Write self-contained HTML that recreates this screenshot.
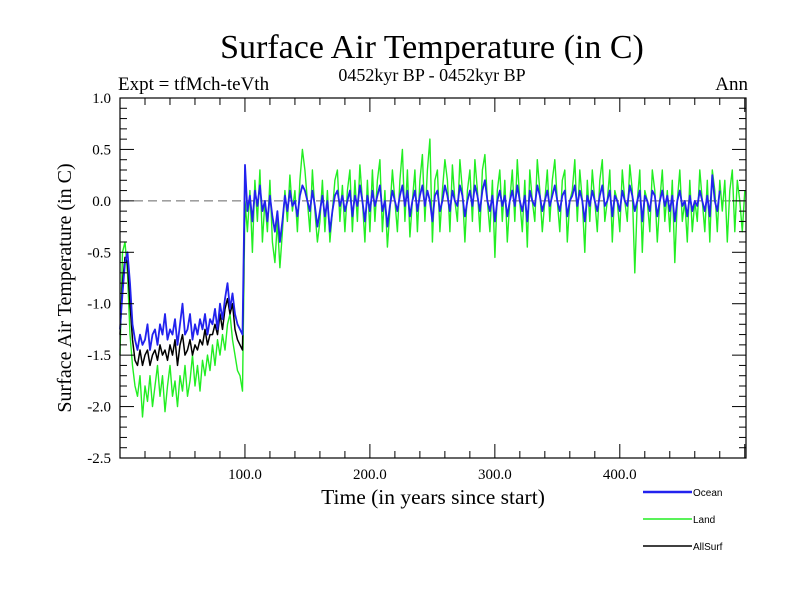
<!DOCTYPE html>
<html><head><meta charset="utf-8"><style>
body{margin:0;background:#fff}
svg{display:block;font-family:"Liberation Serif",serif}
</style></head><body>
<svg id="c" width="800" height="600" viewBox="0 0 800 600">
<text x="432" y="58" font-size="34" text-anchor="middle">Surface Air Temperature (in C)</text>
<text x="432" y="81" font-size="18" text-anchor="middle">0452kyr BP - 0452kyr BP</text>
<text x="118" y="90" font-size="19">Expt = tfMch-teVth</text>
<text x="748" y="90" font-size="19" text-anchor="end">Ann</text>
<text transform="translate(71,288) rotate(-90)" font-size="20" text-anchor="middle">Surface Air Temperature (in C)</text>
<text x="433" y="504" font-size="21.5" text-anchor="middle">Time (in years since start)</text>
<g id="plot"></g>
<g id="legend" font-family="Liberation Sans, sans-serif" font-size="10"></g>
</svg>
<script>
const yTicks=[1.0,0.5,0.0,-0.5,-1.0,-1.5,-2.0,-2.5];
const yTickLabels=["1.0","0.5","0.0","-0.5","-1.0","-1.5","-2.0","-2.5"];
const xTicks=[100,200,300,400];
const xTickLabels=["100.0","200.0","300.0","400.0"];
const years=[];for(let t=0;t<=500;t+=2)years.push(t);
const ocean=[-1.25,-0.9,-0.6,-0.5,-0.8,-1.2,-1.35,-1.45,-1.3,-1.4,-1.35,-1.2,-1.45,-1.3,-1.25,-1.4,-1.2,-1.3,-1.1,-1.35,-1.25,-1.3,-1.15,-1.4,-1.2,-1.0,-1.3,-1.25,-1.1,-1.35,-1.2,-1.3,-1.15,-1.25,-1.1,-1.3,-1.15,-1.2,-1.05,-1.25,-1.0,-1.15,-0.95,-0.8,-1.05,-0.9,-1.1,-1.2,-1.25,-1.3,0.35,
-0.1,0.05,-0.2,0.1,-0.05,0.15,-0.1,0.0,-0.2,0.05,
-0.15,-0.3,-0.1,-0.4,-0.2,0.05,-0.1,0.1,-0.05,0.0,
-0.15,0.05,0.15,0.1,0.0,-0.1,0.1,-0.05,-0.25,-0.1,
0.05,-0.15,0.0,-0.3,-0.1,0.05,0.1,-0.05,0.05,-0.1,
0.0,0.1,-0.15,0.05,-0.05,0.15,0.0,-0.2,0.05,-0.1,
0.1,-0.05,0.05,0.15,-0.1,0.0,-0.25,-0.05,0.1,0.0,
-0.1,0.05,0.15,-0.05,0.1,-0.15,0.0,0.1,-0.1,0.05,
0.15,-0.05,0.1,0.0,-0.2,0.05,0.1,-0.1,0.0,0.15,
0.05,-0.1,0.1,0.0,-0.05,0.15,0.05,-0.15,0.0,0.1,
-0.05,0.15,0.05,-0.1,0.1,0.2,0.0,-0.1,0.05,-0.2,
0.0,0.1,-0.05,0.05,-0.15,0.0,0.1,-0.05,0.15,0.0,
-0.1,0.05,-0.2,0.1,0.0,-0.05,0.15,0.05,-0.1,0.0,
0.1,-0.05,0.05,0.15,0.0,-0.1,0.05,0.1,-0.15,0.0,
0.05,0.15,-0.05,0.1,0.0,-0.2,0.05,-0.05,0.1,0.0,
-0.1,0.05,0.15,-0.05,0.0,0.1,-0.15,0.05,0.0,-0.1,
0.1,0.0,-0.05,0.15,0.05,-0.1,0.0,0.1,-0.2,0.05,
0.0,-0.1,0.1,0.05,-0.15,0.0,0.1,-0.05,0.05,-0.1,
0.05,-0.2,0.0,0.1,-0.05,0.0,-0.15,0.05,-0.1,0.0,
-0.05,0.1,0.0,-0.1,0.05,-0.15,0.25,0.0,-0.1,0.1];
const land=[-1.5,-0.5,-0.4,-0.7,-1.3,-1.6,-1.8,-1.9,-1.7,-2.1,-1.8,-1.95,-1.7,-2.0,-1.8,-1.6,-1.9,-1.7,-2.05,-1.8,-1.6,-1.9,-1.75,-2.0,-1.7,-1.85,-1.6,-1.9,-1.75,-1.5,-1.8,-1.6,-1.85,-1.55,-1.7,-1.5,-1.65,-1.4,-1.6,-1.35,-1.5,-1.3,-1.45,-1.2,-1.1,-1.35,-1.5,-1.65,-1.7,-1.85,0.0,
-0.3,0.1,-0.5,0.2,-0.2,0.3,-0.4,0.0,-0.3,0.2,
-0.4,-0.6,-0.2,-0.65,-0.3,0.1,-0.2,0.25,-0.1,0.1,
-0.3,0.2,0.5,0.3,0.0,-0.3,0.3,-0.1,-0.4,-0.2,
0.2,-0.3,0.1,-0.4,-0.1,0.2,0.3,-0.2,0.15,-0.3,
0.1,0.3,-0.3,0.2,-0.2,0.35,0.0,-0.4,0.2,-0.3,
0.3,-0.2,0.2,0.4,-0.3,0.1,-0.45,-0.1,0.3,0.0,
-0.3,0.2,0.5,-0.2,0.3,-0.35,0.0,0.3,-0.3,0.2,
0.45,-0.2,0.3,0.6,-0.4,0.2,0.3,-0.3,0.1,0.4,
0.2,-0.3,0.35,0.0,-0.2,0.4,0.1,-0.4,0.1,0.3,
-0.2,0.4,0.1,-0.3,0.3,0.45,0.0,-0.3,0.2,-0.55,
0.1,0.3,-0.2,0.2,-0.4,0.0,0.3,-0.2,0.4,0.0,
-0.3,0.2,-0.45,0.3,0.0,-0.2,0.4,0.1,-0.3,0.0,
0.3,-0.2,0.2,0.4,0.0,-0.3,0.2,0.3,-0.4,0.0,
0.1,0.4,-0.2,0.3,0.0,-0.5,0.2,-0.2,0.3,0.0,
-0.3,0.2,0.4,-0.2,0.0,0.3,-0.4,0.1,0.0,-0.3,
0.3,0.0,-0.2,0.35,0.1,-0.7,0.0,0.3,-0.5,0.1,
0.0,-0.3,0.3,0.1,-0.4,0.0,0.3,-0.2,0.1,-0.3,
0.2,-0.6,0.0,0.3,-0.2,0.0,-0.4,0.2,-0.3,0.0,
-0.2,0.3,0.0,-0.3,0.2,-0.4,0.3,0.1,-0.3,0.2,
-0.1,0.2,-0.4,0.1,0.3,-0.3,0.2,0.0,-0.3,0.1];
const allSurf=[-1.3,-0.8,-0.55,-0.6,-1.0,-1.35,-1.55,-1.6,-1.45,-1.6,-1.5,-1.45,-1.6,-1.5,-1.45,-1.55,-1.4,-1.5,-1.45,-1.55,-1.4,-1.5,-1.35,-1.6,-1.4,-1.3,-1.5,-1.45,-1.35,-1.5,-1.4,-1.45,-1.35,-1.4,-1.25,-1.4,-1.3,-1.3,-1.2,-1.3,-1.1,-1.25,-1.05,-0.95,-1.1,-1.0,-1.25,-1.35,-1.4,-1.45,0.25];

const NS="http://www.w3.org/2000/svg";
const L=120,R=746,T=98,B=458,XMAX=501,YMIN=-2.5,YMAX=1.0;
const xs=v=>L+(v/XMAX)*(R-L);
const ys=v=>T+(YMAX-v)/(YMAX-YMIN)*(B-T);
const plot=document.getElementById('plot');
function mk(tag,attrs,parent){const e=document.createElementNS(NS,tag);for(const k in attrs)e.setAttribute(k,attrs[k]);(parent||plot).appendChild(e);return e;}

const zl=mk('line',{x1:L,x2:R,y1:ys(0),y2:ys(0),stroke:'#666','stroke-width':1,'stroke-dasharray':'9,5'});



function series(vals,color,name,w){
  let d='';vals.forEach((v,i)=>{d+=(i?'L':'M')+xs(years[i]).toFixed(1)+','+ys(v).toFixed(1);});
  const p=mk('path',{d:d,fill:'none',stroke:color,'stroke-width':w,'stroke-linejoin':'round'});
  
  
}
series(land,'#22ee22','land-series',1.4);
series(allSurf,'#000','allsurf-series',1.5);
series(ocean,'#2222ee','ocean-series',1.8);

const fr=mk('rect',{x:L,y:T,width:R-L,height:B-T,fill:'none',stroke:'#000','stroke-width':1.2});



for(let v=-2.5;v<=1.001;v+=0.1){
  const y=ys(v),major=Math.abs(v*2-Math.round(v*2))<1e-6,len=major?14:7;
  mk('line',{x1:L,x2:L+len,y1:y,y2:y,stroke:'#000'});
  mk('line',{x1:R,x2:R-len,y1:y,y2:y,stroke:'#000'});
}
for(let t=20;t<XMAX;t+=20){
  const x=xs(t),len=(t%100===0)?14:7;
  mk('line',{x1:x,x2:x,y1:B,y2:B-len,stroke:'#000'});
  mk('line',{x1:x,x2:x,y1:T,y2:T+len,stroke:'#000'});
}
yTicks.forEach((v,i)=>{
  const t=mk('text',{x:111,y:ys(v)+5,'font-size':15,'text-anchor':'end'});
  t.textContent=yTickLabels[i];
  
  
});
xTicks.forEach((v,i)=>{
  const t=mk('text',{x:xs(v),y:479,'font-size':15,'text-anchor':'middle'});
  t.textContent=xTickLabels[i];
  
  
});

const lg=document.getElementById('legend');
const legendNames=['Ocean','Land','AllSurf'];
const legendColors=['#2222ee','#22ee22','#000'];
const legendWidths=[2.5,1.5,1.5];
legendNames.forEach((n,i)=>{
  const y=492+i*27;
  const g=mk('g',{},lg);
  
  
  mk('line',{x1:643,x2:692,y1:y,y2:y,stroke:legendColors[i],'stroke-width':legendWidths[i]},g);
  const t=mk('text',{x:693,y:y+4},g);
  t.textContent=n;
});
</script>
</body></html>
